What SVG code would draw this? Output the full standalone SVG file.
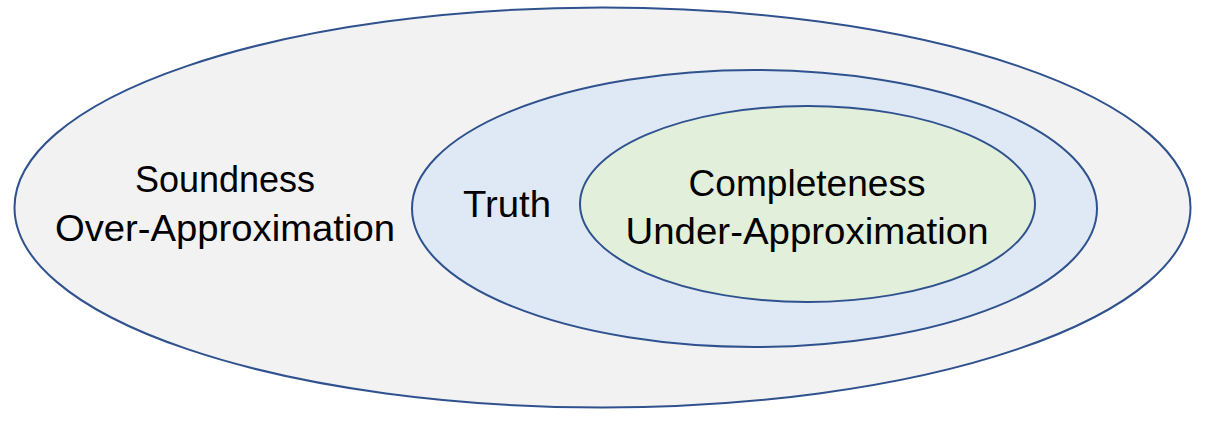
<svg xmlns="http://www.w3.org/2000/svg" width="1207" height="423" viewBox="0 0 1207 423">
<style>
.e{stroke:#2f528f;stroke-width:2}
.t{font-family:"Liberation Sans",Arial,sans-serif;font-size:36px;fill:#000;text-anchor:middle}
</style>
<rect width="1207" height="423" fill="#ffffff"/>
<g id="soundness">
<ellipse class="e" cx="602.5" cy="207.5" rx="588" ry="200" fill="#f2f2f2"/>
<text class="t" x="225" y="192" textLength="180" lengthAdjust="spacingAndGlyphs">Soundness</text>
<text class="t" x="225" y="241" textLength="340" lengthAdjust="spacingAndGlyphs">Over-Approximation</text>
</g>
<g id="truth">
<ellipse class="e" cx="754.5" cy="208.5" rx="342.5" ry="138.5" fill="#dee9f5"/>
<text class="t" x="507" y="217" textLength="88" lengthAdjust="spacingAndGlyphs">Truth</text>
</g>
<g id="completeness">
<ellipse class="e" cx="807.5" cy="204" rx="227.5" ry="98" fill="#e2efda"/>
<text class="t" x="807" y="196" textLength="237" lengthAdjust="spacingAndGlyphs">Completeness</text>
<text class="t" x="807" y="244" textLength="363" lengthAdjust="spacingAndGlyphs">Under-Approximation</text>
</g>
<g id="connectors"></g>
</svg>
